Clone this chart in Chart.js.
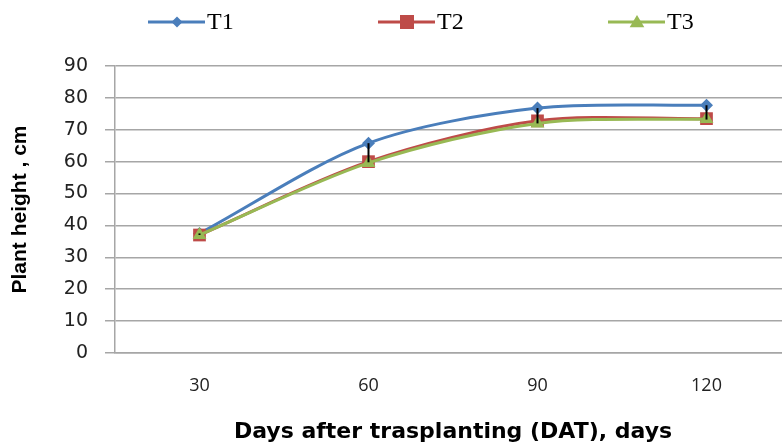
<!DOCTYPE html>
<html>
<head>
<meta charset="utf-8">
<script src="https://cdn.jsdelivr.net/npm/chart.js@4/dist/chart.umd.min.js"></script>
<style>
    html, body { margin: 0; padding: 0; background: #fff; }
    #wrap { width: 782px; height: 445px; overflow: hidden; position: relative; }
    #box { width: 800px; height: 445px; }
</style>
</head>
<body>
<div id="wrap"><div id="box"><canvas id="heightChart"></canvas></div></div>
<script>
// chart data
const days = ['30', '60', '90', '120'];
const t1Values = [37.5, 65.8, 76.8, 77.7];
const t2Values = [37, 60, 72.8, 73.5];
const t3Values = [37, 59.6, 72, 73.4];
const t1ErrDown = [0.5, 6, 4.8, 4.5];
const yTicks = [0, 10, 20, 30, 40, 50, 60, 70, 80, 90];

const blue = '#4a7ebb';
const red = '#be4b48';
const green = '#98b954';

// draw one marker shape
function drawMarker(ctx, style, x, y, r, color) {
    ctx.save();
    ctx.fillStyle = color;
    ctx.beginPath();
    if (style === 'rectRot') {
        ctx.moveTo(x, y - r);
        ctx.lineTo(x + r, y);
        ctx.lineTo(x, y + r);
        ctx.lineTo(x - r, y);
    } else if (style === 'rect') {
        ctx.rect(x - r, y - r, 2 * r, 2 * r);
    } else {
        ctx.moveTo(x, y - r);
        ctx.lineTo(x + r * 1.05, y + r * 0.75);
        ctx.lineTo(x - r * 1.05, y + r * 0.75);
    }
    ctx.closePath();
    ctx.fill();
    ctx.restore();
}

// legend drawn like the Excel one: line with marker in the middle
const lineLegend = {
    id: 'lineLegend',
    afterDraw(chart) {
        const ctx = chart.ctx;
        const items = [
            { x: 148, style: 'rectRot', r: 5.5, color: blue },
            { x: 378, style: 'rect', r: 7, color: red },
            { x: 608, style: 'triangle', r: 7, color: green }
        ];
        const y = 22;
        chart.data.datasets.forEach((ds, i) => {
            const it = items[i];
            ctx.save();
            ctx.strokeStyle = it.color;
            ctx.lineWidth = 3;
            ctx.beginPath();
            ctx.moveTo(it.x, y);
            ctx.lineTo(it.x + 57, y);
            ctx.stroke();
            drawMarker(ctx, it.style, it.x + 29, y, it.r, it.color);
            ctx.fillStyle = '#000';
            ctx.font = '24px "Liberation Serif", "Times New Roman", serif';
            ctx.textBaseline = 'middle';
            ctx.textAlign = 'left';
            ctx.fillText(ds.label, it.x + 59, y + 1);
            ctx.restore();
        });
    }
};

// black error bars under T1
const errorBars = {
    id: 'errorBars',
    afterDatasetsDraw(chart) {
        const ctx = chart.ctx;
        const xs = chart.scales.x;
        const ys = chart.scales.y;
        ctx.save();
        ctx.strokeStyle = '#000';
        ctx.lineWidth = 2;
        t1Values.forEach((v, i) => {
            const px = xs.getPixelForValue(i);
            ctx.beginPath();
            ctx.moveTo(px, ys.getPixelForValue(v));
            ctx.lineTo(px, ys.getPixelForValue(v - t1ErrDown[i]));
            ctx.stroke();
        });
        ctx.restore();
    }
};

const ctx = document.getElementById('heightChart').getContext('2d');
new Chart(ctx, {
    type: 'line',
    data: {
        labels: days,
        datasets: [
            {
                label: 'T1',
                data: t1Values,
                borderColor: blue,
                backgroundColor: blue,
                borderWidth: 3,
                pointStyle: 'rectRot',
                pointRadius: 6.5,
                pointBorderWidth: 0,
                tension: 0.3,
                order: 3
            },
            {
                label: 'T2',
                data: t2Values,
                borderColor: red,
                backgroundColor: red,
                borderWidth: 3,
                pointStyle: 'rect',
                pointRadius: 9,
                pointBorderWidth: 0,
                tension: 0.3,
                order: 2
            },
            {
                label: 'T3',
                data: t3Values,
                borderColor: green,
                backgroundColor: green,
                borderWidth: 3,
                pointStyle: 'triangle',
                pointRadius: 8,
                pointBorderWidth: 0,
                tension: 0.3,
                order: 1
            }
        ]
    },
    options: {
        responsive: true,
        maintainAspectRatio: false,
        animation: false,
        layout: { padding: { left: 0, right: 5, top: 66, bottom: 0 } },
        plugins: {
            legend: { display: false },
            tooltip: { enabled: false }
        },
        scales: {
            x: {
                offset: true,
                grid: { display: false, drawTicks: false },
                border: { display: true, color: '#a6a6a6', width: 1.5 },
                ticks: {
                    padding: 22,
                    color: '#222',
                    font: { family: '"Open Sans", sans-serif', size: 18 }
                },
                title: {
                    display: true,
                    text: 'Days after trasplanting (DAT), days',
                    color: '#000',
                    font: { family: '"DejaVu Sans", sans-serif', size: 22, weight: 'bold' },
                    padding: { top: 0, bottom: 0 }
                },
                afterFit(scale) { scale.height = 92; }
            },
            y: {
                min: 0,
                max: 90,
                afterBuildTicks(scale) {
                    scale.ticks = yTicks.map(v => ({ value: v }));
                },
                grid: { color: '#a6a6a6', lineWidth: 1.5, tickLength: 10 },
                border: { display: true, color: '#a6a6a6', width: 1.5 },
                ticks: {
                    padding: 17,
                    color: '#222',
                    font: { family: '"DejaVu Sans", sans-serif', size: 19 }
                },
                title: {
                    display: true,
                    text: 'Plant height , cm',
                    color: '#000',
                    font: { family: '"Liberation Sans", Arial, sans-serif', size: 21, weight: 'bold' },
                    padding: { top: 8, bottom: 0 }
                },
                afterFit(scale) { scale.width = 115; }
            }
        }
    },
    plugins: [errorBars, lineLegend]
});
</script>
</body>
</html>
